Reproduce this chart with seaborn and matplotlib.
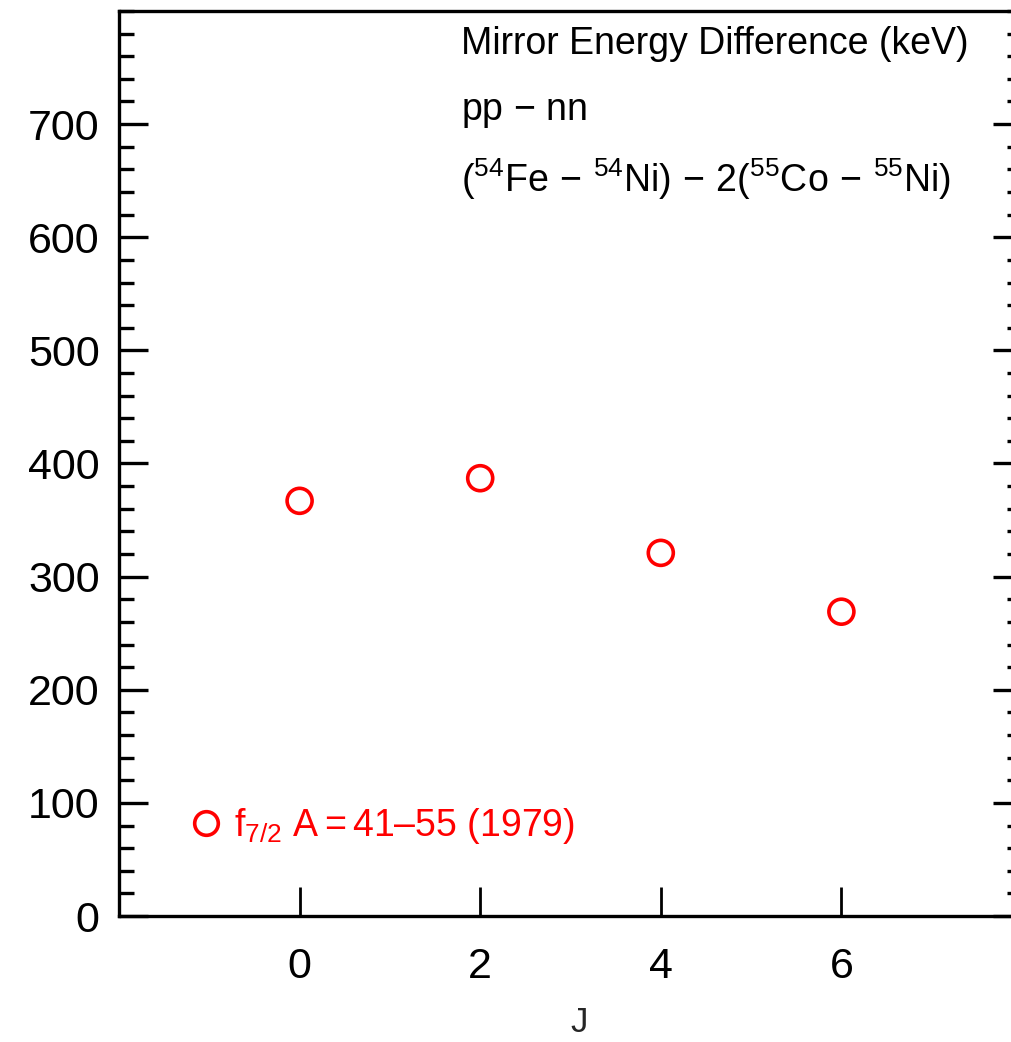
import matplotlib
matplotlib.use("Agg")
import matplotlib.pyplot as plt
from matplotlib.ticker import MultipleLocator
import seaborn as sns
import pandas as pd

# Mirror energy differences, pp - nn, for the f7/2 shell
J = [0, 2, 4, 6]
med_kev = [367, 387, 321, 269]
series_label = r"$\mathrm{f}_{7/2}$ A$=$41–55 (1979)"

x_ticks = [0, 2, 4, 6]
y_ticks = [0, 100, 200, 300, 400, 500, 600, 700]

sns.set_style("ticks")
plt.rcParams["font.family"] = ["Liberation Sans", "DejaVu Sans"]
plt.rcParams["mathtext.fontset"] = "custom"
plt.rcParams["mathtext.rm"] = "Liberation Sans"
plt.rcParams["mathtext.it"] = "Liberation Sans:italic"
plt.rcParams["mathtext.bf"] = "Liberation Sans:bold"

df = pd.DataFrame({"J": J, "MED": med_kev, "set": series_label})

fig = plt.figure(figsize=(10.12, 10.42), dpi=100)
ax = fig.add_axes([119 / 1012, 126 / 1042, 903 / 1012, 905 / 1042])

sns.scatterplot(data=df, x="J", y="MED", hue="set", palette=["red"],
                marker="o", s=18 ** 2, ax=ax, legend=False)
# open circles: re-style the collection so the faces stay empty
coll = ax.collections[0]
coll.set_facecolor("none")
coll.set_edgecolor("red")
coll.set_linewidth(2.6)

ax.set_xlim(-2, 8)
ax.set_ylim(0, 800)
ax.set_xticks(x_ticks)
ax.set_yticks(y_ticks)
ax.yaxis.set_minor_locator(MultipleLocator(20))

for s in ax.spines.values():
    s.set_linewidth(2.4)
    s.set_color("black")

ax.tick_params(axis="both", which="both", direction="in", colors="black")
ax.tick_params(axis="x", which="major", length=21, width=2.0, labelsize=31,
               pad=22, bottom=True, top=False)
ax.tick_params(axis="y", which="major", length=21, width=2.4, labelsize=31,
               pad=14, left=True, right=True, labelright=False)
ax.tick_params(axis="y", which="minor", length=11, width=2.4,
               left=True, right=True)

ax.set_xlabel("J", fontsize=25)
ax.xaxis.set_label_coords(0.509, -0.099)
ax.set_ylabel("")

# legend entry drawn as a handle + label inside the axes
handle = plt.Line2D([], [], linestyle="none", marker="o", markersize=17,
                    markerfacecolor="none", markeredgecolor="red",
                    markeredgewidth=2.6)
leg = ax.legend([handle], [series_label], loc="center left",
                bbox_to_anchor=(0.0835, 0.099), frameon=False, fontsize=27,
                handletextpad=0.45, handlelength=0.6, borderpad=0,
                borderaxespad=0)
for t in leg.get_texts():
    t.set_color("red")

lines = [
    "Mirror Energy Difference (keV)",
    r"pp $-$ nn",
    r"$(^{54}\mathrm{Fe}\,-\,{}^{54}\mathrm{Ni})\,-\,2(^{55}\mathrm{Co}\,-\,{}^{55}\mathrm{Ni})$",
]
for i, txt in enumerate(lines):
    ax.text(0.3790, 0.963 - i * 0.0745, txt, transform=ax.transAxes,
            fontsize=27, ha="left", va="center", color="black")

fig.savefig("out.png", dpi=100)
